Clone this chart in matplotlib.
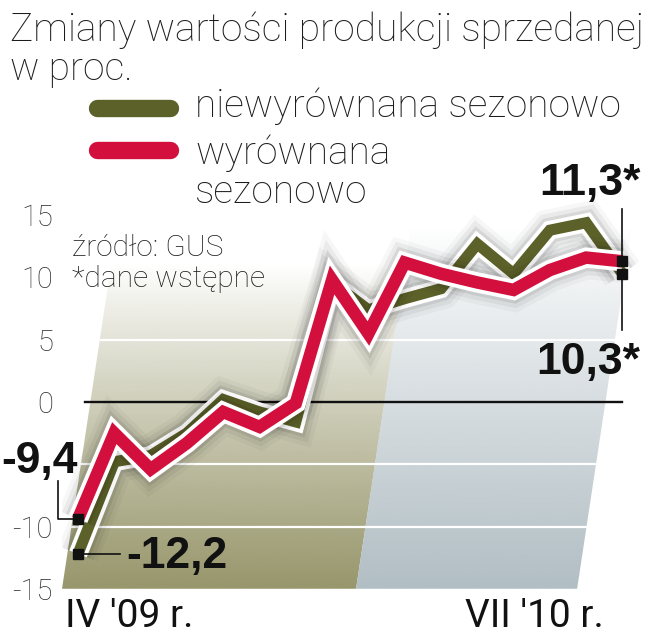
import matplotlib
matplotlib.use("Agg")
import matplotlib.pyplot as plt
import matplotlib.patheffects as pe
from matplotlib.patches import Polygon
from matplotlib.lines import Line2D
from matplotlib.transforms import ScaledTranslation
import numpy as np

# ---------------- data ----------------
months = ["IV '09", "V", "VI", "VII", "VIII", "IX", "X", "XI", "XII",
          "I '10", "II", "III", "IV", "V", "VI", "VII '10"]
niewyrownana = [-12.2, -4.8, -4.3, -2.5, 0.2, -0.8, -1.6, 9.6, 7.4, 8.3,
                9.1, 12.7, 10.3, 13.8, 14.4, 10.3]
wyrownana = [-9.4, -2.5, -5.4, -3.3, -0.8, -2.0, -0.1, 9.8, 5.5, 11.2,
             10.3, 9.6, 9.0, 10.6, 11.6, 11.3]
ytick_values = [15, 10, 5, 0, -10, -15]
ytick_labels = ["15", "10", "5", "0", "-10", "-15"]
xtick_pos = [0, 15]
xtick_labels = ["IV '09 r.", "VII '10 r."]
title = "Zmiany wartości produkcji sprzedanej\nw proc."
legend_labels = ["niewyrównana sezonowo", "wyrównana\nsezonowo"]
source = "źródło: GUS\n*dane wstępne"

GREEN = "#5c6129"
RED = "#d3103d"
INK = "#1c1c1c"

plt.rcParams["font.family"] = ["Liberation Sans", "DejaVu Sans"]
LIGHT = dict(family=["Roboto", "Liberation Sans", "DejaVu Sans"], fontweight="light")

W, H = 670, 640
fig = plt.figure(figsize=(W / 100, H / 100), dpi=100)
fig.patch.set_facecolor("white")

# pixel mapping of the plotting area
X0, DX, Y0, DY = 78.0, 36.3, 402.0, 12.45
L_PX, R_PX, B_PX, T_PX = 62, 648, 592, 150
ax = fig.add_axes([L_PX / W, (H - B_PX) / H, (R_PX - L_PX) / W, (B_PX - T_PX) / H])
XLIM = ((L_PX - X0) / DX, (R_PX - X0) / DX)
YLIM = ((Y0 - B_PX) / DY, (Y0 - T_PX) / DY)
for s in ax.spines.values():
    s.set_visible(False)
ax.set_facecolor("none")

x = np.arange(len(months))

# ---------- shaded "floor" background ----------
slope = 0.052
ybot = -15.0
ytop = 17.0
def shaded(x_left, x_right, color, fade_top, gamma):
    poly = Polygon([(x_left, ybot), (x_right, ybot),
                    (x_right + slope * (ytop - ybot), ytop),
                    (x_left + slope * (ytop - ybot), ytop)],
                   closed=True, facecolor="none", edgecolor="none")
    ax.add_patch(poly)
    yy = np.linspace(ytop, ybot, 300)
    a = np.clip((fade_top - yy) / (fade_top - ybot), 0, 1) ** gamma
    rgb = np.array(matplotlib.colors.to_rgb(color))
    img = np.zeros((300, 2, 4))
    img[..., :3] = rgb
    img[..., 3] = a[:, None]
    im = ax.imshow(img, extent=(x_left - 1, x_right + 3, ybot, ytop),
                   aspect="auto", interpolation="bilinear", zorder=0.5)
    im.set_clip_path(poly)

split = 7.66
shaded(-0.44, split, "#97966b", 11, 0.9)
shaded(split, 13.75, "#b1bec4", 14, 0.9)
ax.set_xlim(*XLIM)
ax.set_ylim(*YLIM)

# white grid lines on the floor
for gy in [5, -5, -10]:
    xl = -0.44 + slope * (gy - ybot)
    xr = 13.75 + slope * (gy - ybot)
    ax.plot([xl, xr], [gy, gy], color="white", lw=1.6, zorder=0.8, solid_capstyle="butt")

# zero line
ax.axhline(0, xmin=0.04, xmax=0.955, color="#111111", lw=1.7, zorder=1)

# ---------- series ----------
def effects(lw):
    return [pe.Stroke(linewidth=lw + 22, foreground="#000000", alpha=0.03, joinstyle="miter"),
            pe.Stroke(linewidth=lw + 16, foreground="#000000", alpha=0.05, joinstyle="miter"),
            pe.Stroke(linewidth=lw + 10, foreground="#000000", alpha=0.08, joinstyle="miter"),
            pe.Stroke(linewidth=lw + 5.5, foreground="white", joinstyle="miter"),
            pe.Normal()]

lw_g, lw_r = 8.0, 9.0
lg, = ax.plot(x, niewyrownana, color=GREEN, lw=lw_g, solid_joinstyle="miter",
              solid_capstyle="butt", zorder=3, path_effects=effects(lw_g))
lr, = ax.plot(x, wyrownana, color=RED, lw=lw_r, solid_joinstyle="miter",
              solid_capstyle="butt", zorder=4, path_effects=effects(lw_r))

# end markers
ends_x = [x[0], x[0], x[-1], x[-1]]
ends_y = [wyrownana[0], niewyrownana[0], wyrownana[-1], niewyrownana[-1]]
ax.plot(ends_x, ends_y, ls="none", marker="s", ms=6.5, mfc="#111111", mec="#111111",
        zorder=6)

# ---------- ticks ----------
ax.set_yticks(ytick_values)
ax.set_yticklabels(ytick_labels)
ax.tick_params(axis="y", length=0, pad=6.5, labelsize=21, labelcolor="#2e2e2e")
ax.set_xticks(xtick_pos)
ax.set_xticklabels(xtick_labels)
ax.tick_params(axis="x", length=0, pad=4, labelsize=28, labelcolor="#111111")
for lab in ax.get_yticklabels():
    lab.set_fontfamily(LIGHT["family"])
    lab.set_fontweight("light")
offs = [(-13, "left"), (-19, "right")]
for lab, (dx, ha) in zip(ax.get_xticklabels(), offs):
    lab.set_ha(ha)
    lab.set_fontfamily(LIGHT["family"])
    lab.set_transform(lab.get_transform() + ScaledTranslation(dx / 100, 0, fig.dpi_scale_trans))

# ---------- annotations ----------
def dpx(dx_px, dy_px):
    """pixel offsets -> data offsets (dy positive = downwards)"""
    return dx_px / DX, -dy_px / DY

lbl_kw = dict(fontsize=32, fontweight="bold", color="#111111", zorder=7)
LC = dict(color="#111111", lw=1.2, zorder=5, clip_on=False)
# -9,4 (first value of the adjusted series)
xs, ys = x[0], wyrownana[0]
ox = dpx(-20, 0)[0]
oy = dpx(0, -38)[1]
ax.plot([xs, xs + ox, xs + ox], [ys, ys, ys + oy], **LC)
ax.text(xs, ys + dpx(0, -46)[1], "-9,4", ha="right", va="baseline", clip_on=False, **lbl_kw)
# -12,2 (first value of the unadjusted series)
xs, ys = x[0], niewyrownana[0]
ax.plot([xs, xs + dpx(42, 0)[0]], [ys, ys], **LC)
ax.text(xs + dpx(48, 0)[0], ys + dpx(0, 14)[1], "-12,2", ha="left", va="baseline", **lbl_kw)
# 11,3* (last value of the adjusted series)
xs, ys = x[-1], wyrownana[-1]
ax.plot([xs, xs], [ys, ys + dpx(0, -52)[1]], **LC)
ax.text(xs + dpx(18, 0)[0], ys + dpx(0, -66)[1], "11,3*", ha="right", va="baseline", **lbl_kw)
# 10,3* (last value of the unadjusted series)
xs, ys = x[-1], niewyrownana[-1]
ax.plot([xs, xs], [ys, ys + dpx(0, 56)[1]], **LC)
ax.text(xs + dpx(18, 0)[0], ys + dpx(0, 100)[1], "10,3*", ha="right", va="baseline", **lbl_kw)

# ---------- title, legend, source ----------
fig.text(10 / W, 1 - 80 / H, title, ha="left", va="baseline", fontsize=28, color=INK,
         linespacing=1.05, **LIGHT)

legend_y = [108, 150]
legend_base = [117, 203]
for y_px, yb, col, lab in zip(legend_y, legend_base, [GREEN, RED], legend_labels):
    fig.add_artist(Line2D([97 / W, 170 / W], [1 - y_px / H] * 2, color=col, lw=12.5,
                          solid_capstyle="round", transform=fig.transFigure))
    fig.text(195 / W, 1 - yb / H, lab, ha="left", va="baseline", fontsize=28,
             color=INK, linespacing=1.05, **LIGHT)

fig.text(72 / W, 1 - 287 / H, source, ha="left", va="baseline", fontsize=21.5, color=INK,
         linespacing=1.15, **LIGHT)

fig.savefig("out.png", dpi=100, facecolor="white")
